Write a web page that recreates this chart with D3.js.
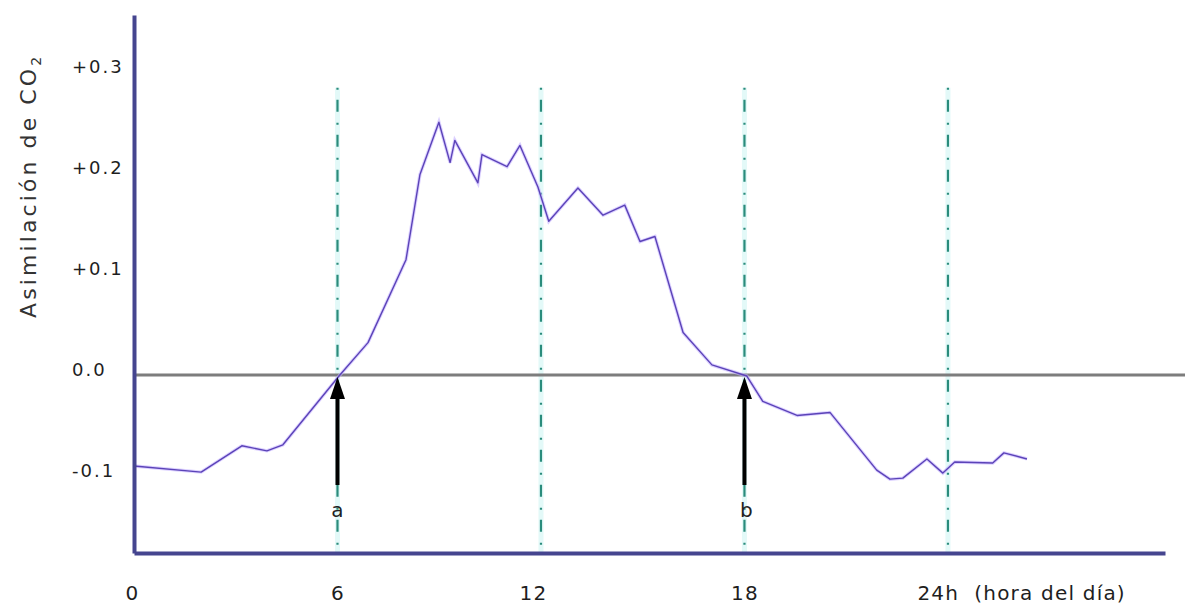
<!DOCTYPE html>
<html>
<head>
<meta charset="utf-8">
<script src="https://cdn.jsdelivr.net/npm/d3@7"></script>
<style>
  html, body { margin: 0; padding: 0; background: #fff; }
  svg { display: block; }
</style>
</head>
<body>
<svg id="chart" width="1187" height="606"></svg>
<script>
// ---- data ----
const hours = [0, 1.98, 3.18, 3.92, 4.39, 6.07, 6.9, 8.02, 8.43, 8.99, 9.32, 9.46, 10.14, 10.26, 11.0, 11.38, 11.91, 12.23, 13.09, 13.83, 14.47, 14.92, 15.36, 16.19, 17.04, 18.07, 18.54, 19.55, 20.52, 21.9, 22.29, 22.67, 23.38, 23.85, 24.2, 25.32, 25.65, 26.33];
const co2 = [-0.090, -0.096, -0.070, -0.075, -0.069, 0.0, 0.032, 0.114, 0.198, 0.250, 0.210, 0.232, 0.190, 0.218, 0.206, 0.227, 0.186, 0.152, 0.185, 0.158, 0.168, 0.132, 0.137, 0.042, 0.010, -0.001, -0.026, -0.040, -0.037, -0.094, -0.103, -0.102, -0.083, -0.097, -0.086, -0.087, -0.077, -0.083];
const yTicks = [-0.1, 0, 0.1, 0.2, 0.3];
const yTickLabels = ["-0.1", "0.0", "+0.1", "+0.2", "+0.3"];
const xTicks = [0, 6, 12, 18, 24];
const xTickLabels = ["0", "6", "12", "18", "24h  (hora del día)"];
const guideHours = [6, 12, 18, 24];
const arrowHours = [6, 18];
const arrowLabels = ["a", "b"];

// ---- scales ----
const x = d3.scaleLinear().domain([0, 30.4]).range([134, 1165]);
const y = d3.scaleLinear().domain([-0.176, 0.356]).range([553, 15]);

const svg = d3.select("#chart");
const font = "'DejaVu Sans', Verdana, sans-serif";

// vertical dash-dot guide lines
const guides = svg.append("g");
guides.selectAll("line.halo").data(guideHours).join("line")
  .attr("class", "halo")
  .attr("x1", d => x(d)).attr("x2", d => x(d))
  .attr("y1", y(0.284)).attr("y2", y.range()[0])
  .attr("stroke", "#cdf5f3").attr("stroke-width", 5).attr("opacity", 0.55);
guides.selectAll("line.dash").data(guideHours).join("line")
  .attr("class", "dash")
  .attr("x1", d => x(d)).attr("x2", d => x(d))
  .attr("y1", y(0.284)).attr("y2", y.range()[0])
  .attr("stroke", "#2a8c7c").attr("stroke-width", 2.2)
  .attr("stroke-dasharray", "2,10,12,11");

// zero line
svg.append("line")
  .attr("x1", x(0)).attr("x2", 1185)
  .attr("y1", y(0)).attr("y2", y(0))
  .attr("stroke", "#7d7d7d").attr("stroke-width", 3);

// data line
const line = d3.line().x((d, i) => x(hours[i])).y(d => y(d));
svg.append("path").datum(co2)
  .attr("d", line)
  .attr("fill", "none")
  .attr("stroke", "#c4b2ff").attr("stroke-width", 3.4).attr("opacity", 0.6);
svg.append("path").datum(co2)
  .attr("d", line)
  .attr("fill", "none")
  .attr("stroke", "#5b43b8").attr("stroke-width", 1.4)
  .attr("stroke-linejoin", "round");

// arrows
const arrows = svg.append("g");
arrowHours.forEach((h, i) => {
  const ax = x(h), tip = y(0) + 2;
  arrows.append("line")
    .attr("x1", ax).attr("x2", ax)
    .attr("y1", 485).attr("y2", tip + 16)
    .attr("stroke", "#000").attr("stroke-width", 4);
  arrows.append("path")
    .attr("d", d3.line()([[ax, tip], [ax + 7.5, tip + 22], [ax - 7.5, tip + 22]]) + "Z")
    .attr("fill", "#000");
  arrows.append("text")
    .attr("x", ax + (i === 1 ? 2 : 0)).attr("y", 517)
    .attr("text-anchor", "middle")
    .attr("font-family", font).attr("font-size", 20)
    .attr("fill", "#222")
    .text(arrowLabels[i]);
});

// axes
const xAxis = svg.append("g")
  .attr("transform", `translate(0,${y.range()[0]})`)
  .call(d3.axisBottom(x).tickValues(xTicks).tickSize(0).tickSizeOuter(0)
    .tickPadding(0).tickFormat((d, i) => xTickLabels[i]));
xAxis.select(".domain").attr("stroke", "#45458f").attr("stroke-width", 4);
xAxis.selectAll(".tick text")
  .attr("font-family", font).attr("font-size", 20)
  .attr("letter-spacing", "1.2px")
  .attr("fill", "#1e1e1e")
  .attr("dy", null).attr("y", 47);
xAxis.selectAll(".tick").filter(d => d === 24).select("text")
  .attr("text-anchor", "start").attr("x", -31).style("white-space", "pre");
xAxis.selectAll(".tick").filter(d => d === 0).select("text").attr("x", -2);
xAxis.selectAll(".tick").filter(d => d === 12).select("text").attr("x", -8);

const yAxis = svg.append("g")
  .attr("transform", `translate(${x(0)},0)`)
  .call(d3.axisLeft(y).tickValues([]).tickSizeOuter(0));
yAxis.select(".domain").attr("stroke", "#45458f").attr("stroke-width", 4);

svg.append("g").selectAll("text").data(yTicks).join("text")
  .attr("x", 72).attr("y", d => y(d) + 1)
  .attr("text-anchor", "start")
  .attr("font-family", font).attr("font-size", 18)
  .attr("letter-spacing", "2px")
  .attr("fill", "#1e1e1e")
  .text((d, i) => yTickLabels[i]);

// y title
const title = svg.append("text")
  .attr("transform", "translate(36,318) rotate(-90)")
  .attr("text-anchor", "start")
  .attr("font-family", font).attr("font-size", 22)
  .attr("letter-spacing", "3.1px")
  .attr("fill", "#333");
title.append("tspan").text("Asimilación de CO");
title.append("tspan").attr("font-size", 14).attr("dy", 5).text("2");
</script>
</body>
</html>
